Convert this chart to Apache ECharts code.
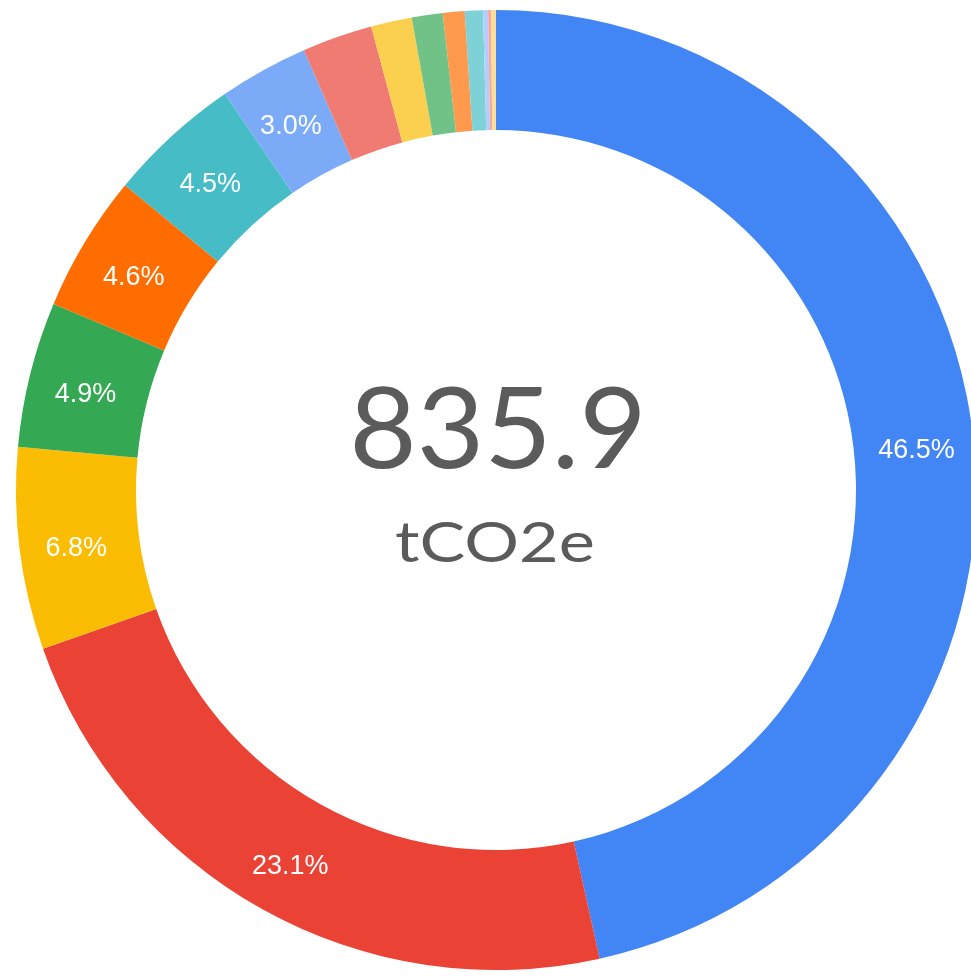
<!DOCTYPE html>
<html>
<head>
<meta charset="utf-8">
<script src="https://cdn.jsdelivr.net/npm/echarts@6/dist/echarts.min.js"></script>
<style>
  html, body { margin: 0; padding: 0; background: #fff; }
  #chart { width: 971px; height: 977px; }
</style>
</head>
<body>
<div id="chart"></div>
<script>
// emissions by source, tCO2e
const categories = ['S1', 'S2', 'S3', 'S4', 'S5', 'S6', 'S7', 'S8', 'S9', 'S10', 'S11', 'S12', 'S13', 'S14', 'S15']
const values = [389.0, 193.1, 56.8, 41.0, 38.5, 37.6, 25.1, 19.8, 11.5, 8.7, 6.1, 5.1, 1.4, 0.8, 1.4]
const colors = ['#4285F4', '#EA4335', '#FBBC04', '#34A853', '#FF6D01', '#46BDC6', '#7BAAF7', '#F07B72',
  '#FCD04F', '#71C287', '#FF994D', '#7ED1D7', '#B3CEFB', '#F7A7A1', '#FDDE99']
const totalLabel = '835.9'
const unitLabel = 'tCO2e'

const total = values.reduce((a, b) => a + b, 0)

const chart = echarts.init(document.getElementById('chart'))
chart.setOption({
  animation: false,
  color: colors,
  graphic: [
    {
      type: 'text',
      x: 498,
      y: 432,
      scaleX: 1.04,
      style: {
        text: totalLabel,
        x: 0,
        y: 0,
        textAlign: 'center',
        textVerticalAlign: 'middle',
        font: '400 112px Lato, "Open Sans", sans-serif',
        fill: '#5b5b5b'
      }
    },
    {
      type: 'text',
      x: 495,
      y: 544,
      scaleX: 1.2,
      style: {
        text: unitLabel,
        x: 0,
        y: 0,
        textAlign: 'center',
        textVerticalAlign: 'middle',
        font: '400 57px Lato, "Open Sans", sans-serif',
        fill: '#5b5b5b'
      }
    }
  ],
  series: [
    {
      type: 'pie',
      center: [496, 490],
      radius: [360, 480],
      startAngle: 90,
      clockwise: true,
      avoidLabelOverlap: false,
      itemStyle: { borderWidth: 0 },
      label: {
        show: true,
        position: 'inside',
        formatter: p => {
          const pct = p.value / total * 100
          return pct >= 2.5 ? '{p|' + pct.toFixed(1) + '%}' : ''
        },
        rich: {
          p: {
            color: '#fff',
            fontSize: 27,
            fontFamily: '"Liberation Sans", Arial, sans-serif',
            padding: [13, 0, 0, 0]
          }
        }
      },
      labelLine: { show: false },
      emphasis: { disabled: true },
      data: categories.map((name, i) => ({ name, value: values[i] }))
    }
  ]
})
</script>
</body>
</html>
